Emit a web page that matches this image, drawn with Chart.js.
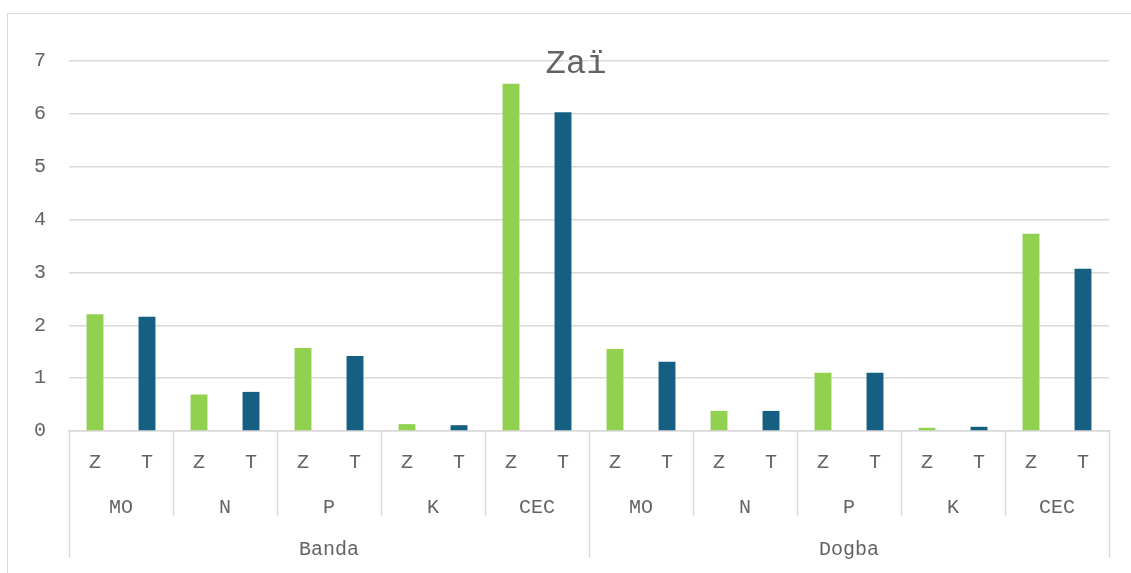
<!DOCTYPE html>
<html>
<head>
<meta charset="utf-8">
<script src="https://cdn.jsdelivr.net/npm/chart.js@4/dist/chart.umd.min.js"></script>
<style>
  html, body { margin: 0; padding: 0; background: #fff; overflow: hidden; }
  #wrap { position: relative; width: 1131px; height: 573px; }
  #frame { position: absolute; left: 7px; top: 13px; width: 1200px; height: 600px; border: 1.5px solid #d9d9d9; }
  canvas { position: absolute; left: 0; top: 0; }
</style>
</head>
<body>
<div id="wrap">
  <div id="frame"></div>
  <canvas id="chart" width="1131" height="573"></canvas>
</div>
<script>
// Data
const sites = ['Banda', 'Dogba'];
const params = ['MO', 'N', 'P', 'K', 'CEC'];
const kinds = ['Z', 'T'];
const values = [
  2.21, 2.16, 0.69, 0.74, 1.57, 1.42, 0.13, 0.11, 6.57, 6.03,
  1.55, 1.31, 0.38, 0.38, 1.10, 1.10, 0.06, 0.08, 3.73, 3.07
];
const yTicks = [0, 1, 2, 3, 4, 5, 6, 7];

const GREEN = '#92d050';
const BLUE = '#156082';
const TEXT = '#636363';
const GRID = '#d9d9d9';
const FONT = "'Liberation Mono', 'Courier New', monospace";

const labels = [];
const colors = [];
sites.forEach(() => params.forEach(() => kinds.forEach(k => {
  labels.push(k);
  colors.push(k === 'Z' ? GREEN : BLUE);
})));

// Draws the grouped category rows (parameters, sites) and the title
const groupAxis = {
  id: 'groupAxis',
  afterDraw(chart) {
    const ctx = chart.ctx;
    const x = chart.scales.x;
    const half = (x.getPixelForValue(1) - x.getPixelForValue(0)) / 2;
    const edge = i => x.getPixelForValue(i) - half;
    const top = x.top;
    const perSite = params.length * kinds.length;
    ctx.save();
    ctx.strokeStyle = GRID;
    ctx.lineWidth = 1.5;
    for (let i = 0; i <= labels.length; i += kinds.length) {
      const px = Math.round(edge(i)) + 0.5;
      ctx.beginPath();
      ctx.moveTo(px, top);
      ctx.lineTo(px, i % perSite === 0 ? top + 127 : top + 85);
      ctx.stroke();
    }
    ctx.fillStyle = TEXT;
    ctx.font = '20px ' + FONT;
    ctx.textAlign = 'center';
    ctx.textBaseline = 'middle';
    sites.forEach((s, si) => {
      params.forEach((p, pi) => {
        const i0 = si * perSite + pi * kinds.length;
        ctx.fillText(p, (edge(i0) + edge(i0 + kinds.length)) / 2, top + 77);
      });
      ctx.fillText(s, (edge(si * perSite) + edge((si + 1) * perSite)) / 2, top + 119);
    });
    ctx.font = '34px ' + FONT;
    ctx.fillText('Zaï', 576, 64);
    ctx.restore();
  }
};

new Chart(document.getElementById('chart').getContext('2d'), {
  type: 'bar',
  data: {
    labels: labels,
    datasets: [{
      label: 'Zaï',
      data: values,
      backgroundColor: colors,
      barPercentage: 0.325,
      categoryPercentage: 1
    }]
  },
  options: {
    responsive: false,
    animation: false,
    layout: { padding: { top: 61, right: 22, left: 0, bottom: 0 } },
    plugins: {
      legend: { display: false },
      title: { display: false },
      tooltip: { enabled: false }
    },
    scales: {
      x: {
        afterFit: s => { s.height = 142; },
        grid: { display: false },
        border: { display: true, color: GRID, width: 1.5 },
        ticks: { color: TEXT, font: { family: FONT, size: 20 }, padding: 12, maxRotation: 0, autoSkip: false }
      },
      y: {
        min: 0,
        max: 7,
        afterFit: s => { s.width = 69; },
        afterBuildTicks: s => { s.ticks = yTicks.map(v => ({ value: v })); },
        grid: { color: GRID, lineWidth: 1.5, drawTicks: false },
        border: { display: false },
        ticks: { color: TEXT, font: { family: FONT, size: 20 }, padding: 23 }
      }
    }
  },
  plugins: [groupAxis]
});
</script>
</body>
</html>
